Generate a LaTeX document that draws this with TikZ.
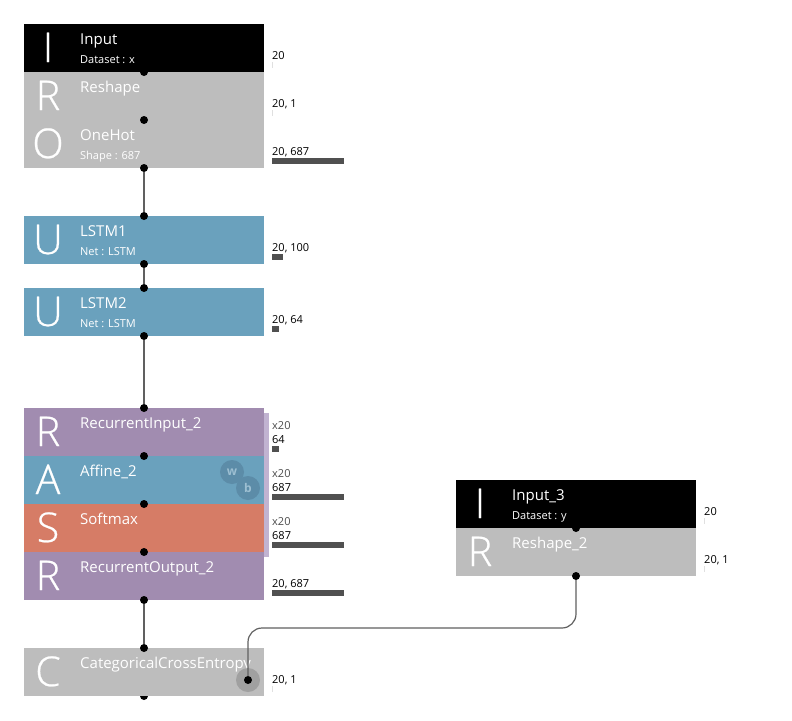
\documentclass[tikz,border=0pt]{standalone}
\usepackage{fontspec}
\setmainfont{Open Sans}
\newfontfamily\bigf[FakeBold=0.6]{Open Sans Light}
\definecolor{cblack}{HTML}{000000}
\definecolor{cgray}{HTML}{BDBDBD}
\definecolor{cblue}{HTML}{6AA1BD}
\definecolor{cpurple}{HTML}{A18CB0}
\definecolor{corange}{HTML}{D67C66}
\definecolor{cstrip}{HTML}{C1B3D1}
\definecolor{cbar}{HTML}{505050}
\definecolor{ctick}{HTML}{E0E0E0}
\definecolor{cline}{HTML}{606060}
\definecolor{cbadge}{HTML}{5C8CA8}
\definecolor{cbadget}{HTML}{9DBFD2}
\definecolor{chalo}{HTML}{A0A0A0}
\tikzset{
  blockbox/.style={rectangle,minimum width=240pt,minimum height=48pt,inner sep=0pt,outer sep=0pt,draw=none},
  bigletter/.style={anchor=base,text=white,inner sep=0pt,font=\bigf\fontsize{41}{41}\selectfont},
  title/.style={anchor=base west,text=white,inner sep=0pt,font=\fontsize{15}{15}\selectfont},
  subtitle/.style={anchor=base west,text=white,inner sep=0pt,font=\fontsize{11}{11}\selectfont},
  sizelabel/.style={anchor=base west,text=black,inner sep=0pt,font=\fontsize{11}{11}\selectfont},
  repeatlabel/.style={anchor=base west,text=black!70,inner sep=0pt,font=\fontsize{11}{11}\selectfont},
  port/.style={circle,fill=black,minimum size=8pt,inner sep=0pt,outer sep=0pt},
  link/.style={draw=cline,line width=1.5pt},
  bentlink/.style={draw=cline,line width=1.2pt,rounded corners=14pt},
  badge/.style={circle,fill=cbadge,minimum size=24pt,inner sep=0pt,text=cbadget,font=\bfseries\fontsize{12}{12}\selectfont},
}
% name, x-centre, top, colour, letter, title, subtitle
\newcommand{\blk}[7]{%
  \node[blockbox,fill=#4] (#1) at (#2,#3+24) {};
  \node[bigletter] (#1-l) at (#2-96,#3+38) {#5};
  \node[title] (#1-t) at (#2-64,#3+20) {#6};
  \node[subtitle] (#1-s) at (#2-64,#3+39) {#7};
}
% name, x, baseline, text
\newcommand{\lab}[4]{\node[sizelabel] (#1) at (#2,#3) {#4};}
\newcommand{\barr}[4]{\fill[#4] (#1,#2) rectangle ++(#3,6);}
\begin{document}
\begin{tikzpicture}[x=1pt,y=-1pt]
\useasboundingbox (0,0) rectangle (792,720);
% hidden out port of the last block
\node[port] (ccout) at (144,696) {};
\fill[cstrip] (264,413) rectangle (269,557);
\blk{input}{144}{24}{cblack}{I}{Input}{Dataset : x}
\blk{reshape}{144}{72}{cgray}{R}{Reshape}{}
\blk{onehot}{144}{120}{cgray}{O}{OneHot}{Shape : 687}
\blk{lstma}{144}{216}{cblue}{U}{LSTM1}{Net : LSTM}
\blk{lstmb}{144}{288}{cblue}{U}{LSTM2}{Net : LSTM}
\blk{recin}{144}{408}{cpurple}{R}{RecurrentInput\_2}{}
\blk{affine}{144}{456}{cblue}{A}{Affine\_2}{}
\blk{softmax}{144}{504}{corange}{S}{Softmax}{}
\blk{recout}{144}{552}{cpurple}{R}{RecurrentOutput\_2}{}
\blk{cce}{144}{648}{cgray}{C}{CategoricalCrossEntropy}{}
\blk{inputc}{576}{480}{cblack}{I}{Input\_3}{Dataset : y}
\blk{reshapeb}{576}{528}{cgray}{R}{Reshape\_2}{}
% badges
\node[badge] (w) at (232,472) {w};
\node[badge] (b) at (248,488) {b};
\node[circle,fill=chalo,minimum size=24pt,inner sep=0pt] (halo) at (248,680) {};
% ports
\node[port] (p1) at (144,72) {};
\node[port] (p2) at (144,120) {};
\node[port] (p3) at (144,168) {};
\node[port] (p4) at (144,216) {};
\node[port] (p5) at (144,264) {};
\node[port] (p6) at (144,288) {};
\node[port] (p7) at (144,336) {};
\node[port] (p8) at (144,408) {};
\node[port] (p9) at (144,456) {};
\node[port] (p10) at (144,504) {};
\node[port] (p11) at (144,552) {};
\node[port] (p12) at (144,600) {};
\node[port] (p13) at (144,648) {};
\node[port] (q1) at (576,528) {};
\node[port] (q2) at (576,576) {};
\node[port] (ccin) at (248,680) {};
% connectors
\draw[link] (p3) -- (p4);
\draw[link] (p5) -- (p6);
\draw[link] (p7) -- (p8);
\draw[link] (p12) -- (p13);
\coordinate (bendr) at (576,628);
\coordinate (bendl) at (248,628);
\draw[bentlink] (q2) -- (bendr) -- (bendl) -- (ccin);
% size labels
\lab{s1}{272}{59}{20}
\fill[ctick] (272,62) rectangle ++(1,6);
\lab{s2}{272}{107}{20, 1}
\fill[ctick] (272,110) rectangle ++(1,6);
\lab{s3}{272}{155}{20, 687}
\barr{272}{158}{72}{cbar}
\lab{s4}{272}{251}{20, 100}
\barr{272}{254}{10.5}{cbar}
\lab{s5}{272}{323}{20, 64}
\barr{272}{326}{6.7}{cbar}
\node[repeatlabel] (x1) at (272,429) {x20};
\lab{s6}{272}{443}{64}
\barr{272}{446}{6.7}{cbar}
\node[repeatlabel] (x2) at (272,477) {x20};
\lab{s7}{272}{491}{687}
\barr{272}{494}{72}{cbar}
\node[repeatlabel] (x3) at (272,525) {x20};
\lab{s8}{272}{539}{687}
\barr{272}{542}{72}{cbar}
\lab{s9}{272}{587}{20, 687}
\barr{272}{590}{72}{cbar}
\lab{s10}{272}{683}{20, 1}
\fill[ctick] (272,686) rectangle ++(1,6);
\lab{s11}{704}{515}{20}
\fill[ctick] (704,518) rectangle ++(1,6);
\lab{s12}{704}{563}{20, 1}
\fill[ctick] (704,566) rectangle ++(1,6);
\end{tikzpicture}
\end{document}
